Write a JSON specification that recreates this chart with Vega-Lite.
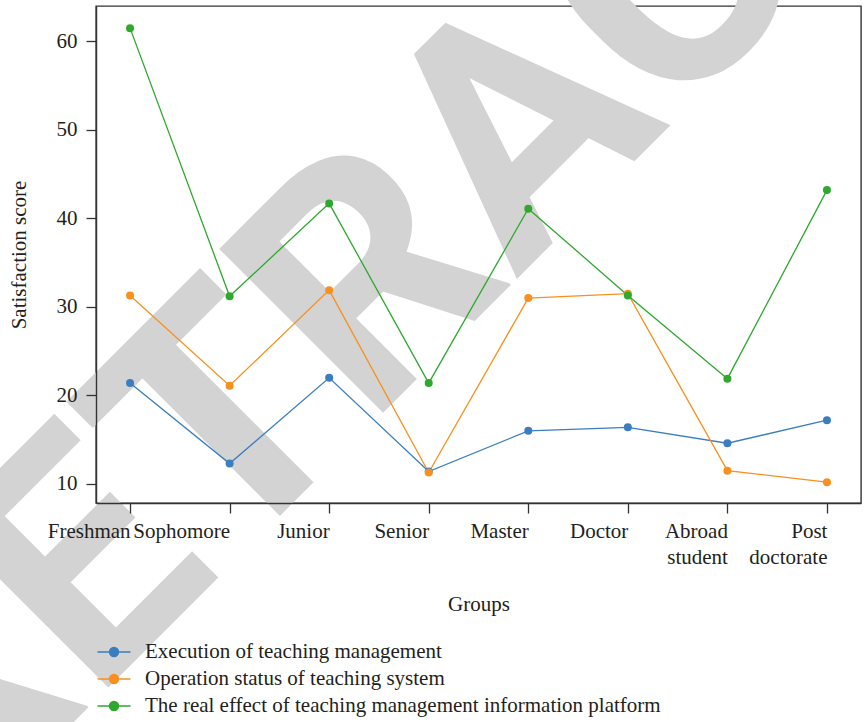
{
  "$schema": "https://vega.github.io/schema/vega-lite/v6.json",
  "width": 765,
  "height": 497,
  "autosize": {"type": "none"},
  "padding": {"left": 96, "top": 6, "right": 7, "bottom": 219},
  "background": "white",
  "config": {
    "font": "Liberation Serif",
    "view": {"stroke": "#333333", "strokeWidth": 1.4},
    "axis": {
      "labelFont": "Liberation Serif",
      "titleFont": "Liberation Serif",
      "labelFontSize": 21,
      "titleFontSize": 21,
      "titleFontWeight": "normal",
      "labelColor": "#231f20",
      "titleColor": "#231f20",
      "domainColor": "#333333",
      "tickColor": "#333333",
      "domainWidth": 1.4,
      "tickWidth": 1.3,
      "tickSize": 10,
      "grid": false
    },
    "legend": {
      "orient": "bottom",
      "direction": "vertical",
      "title": null,
      "labelFont": "Liberation Serif",
      "labelFontSize": 21,
      "labelColor": "#231f20",
      "labelLimit": 0,
      "symbolType": "M-1.5,0L1.5,0M0.41,0A0.41,0.41,0,1,1,-0.41,0A0.41,0.41,0,1,1,0.41,0",
      "symbolSize": 484,
      "symbolStrokeWidth": 1.4,
      "rowPadding": 5,
      "labelOffset": 19,
      "padding": 6,
      "offset": 20,
      "zindex": 2
    }
  },
  "layer": [
    {
      "data": {"values": [{"t": "RETRACTED"}]},
      "mark": {
        "type": "text",
        "font": "Roboto",
        "fontWeight": "bold",
        "fontSize": 326,
        "angle": -45,
        "align": "center",
        "baseline": "alphabetic",
        "color": "#d3d3d3",
        "dx": -50
      },
      "encoding": {
        "x": {"datum": "Doctor", "type": "ordinal", "axis": {"title": "Groups", "zindex": 2}},
        "y": {"datum": 45.7, "type": "quantitative", "axis": {"zindex": 2}},
        "text": {"field": "t"}
      }
    },
    {
      "data": {
        "values": [
          {"group": "Freshman", "series": "Execution of teaching management", "score": 21.4},
          {"group": "Sophomore", "series": "Execution of teaching management", "score": 12.3},
          {"group": "Junior", "series": "Execution of teaching management", "score": 22.0},
          {"group": "Senior", "series": "Execution of teaching management", "score": 11.4},
          {"group": "Master", "series": "Execution of teaching management", "score": 16.0},
          {"group": "Doctor", "series": "Execution of teaching management", "score": 16.4},
          {"group": "Abroad student", "series": "Execution of teaching management", "score": 14.6},
          {"group": "Post doctorate", "series": "Execution of teaching management", "score": 17.2},
          {"group": "Freshman", "series": "Operation status of teaching system", "score": 31.3},
          {"group": "Sophomore", "series": "Operation status of teaching system", "score": 21.1},
          {"group": "Junior", "series": "Operation status of teaching system", "score": 31.9},
          {"group": "Senior", "series": "Operation status of teaching system", "score": 11.3},
          {"group": "Master", "series": "Operation status of teaching system", "score": 31.0},
          {"group": "Doctor", "series": "Operation status of teaching system", "score": 31.5},
          {"group": "Abroad student", "series": "Operation status of teaching system", "score": 11.5},
          {"group": "Post doctorate", "series": "Operation status of teaching system", "score": 10.2},
          {"group": "Freshman", "series": "The real effect of teaching management information platform", "score": 61.5},
          {"group": "Sophomore", "series": "The real effect of teaching management information platform", "score": 31.2},
          {"group": "Junior", "series": "The real effect of teaching management information platform", "score": 41.7},
          {"group": "Senior", "series": "The real effect of teaching management information platform", "score": 21.4},
          {"group": "Master", "series": "The real effect of teaching management information platform", "score": 41.1},
          {"group": "Doctor", "series": "The real effect of teaching management information platform", "score": 31.3},
          {"group": "Abroad student", "series": "The real effect of teaching management information platform", "score": 21.9},
          {"group": "Post doctorate", "series": "The real effect of teaching management information platform", "score": 43.2}
        ]
      },
      "mark": {
        "type": "line",
        "strokeWidth": 1.3,
        "point": {"filled": true, "size": 64, "opacity": 1}
      },
      "encoding": {
        "x": {
          "field": "group",
          "type": "ordinal",
          "scale": {
            "type": "point",
            "padding": 0.342,
            "domain": ["Freshman", "Sophomore", "Junior", "Senior", "Master", "Doctor", "Abroad student", "Post doctorate"]
          },
          "axis": {
            "title": "Groups",
            "labelAngle": 0,
            "labelExpr": "split(datum.label, ' ')",
            "labelLineHeight": 26,
            "labelPadding": 18,
            "titlePadding": 26,
            "zindex": 2
          }
        },
        "y": {
          "field": "score",
          "type": "quantitative",
          "scale": {"domain": [7.85, 64.0], "nice": false, "zero": false},
          "axis": {
            "title": "Satisfaction score",
            "values": [10, 20, 30, 40, 50, 60],
            "labelPadding": 9,
            "titlePadding": 27,
            "zindex": 2
          }
        },
        "color": {
          "field": "series",
          "type": "nominal",
          "scale": {
            "domain": ["Execution of teaching management", "Operation status of teaching system", "The real effect of teaching management information platform"],
            "range": ["#3a7ebf", "#f7901e", "#2ea82d"]
          },
          "legend": {
            "encode": {
              "symbols": {
                "update": {
                  "fill": {"scale": "color", "field": "value"},
                  "stroke": {"scale": "color", "field": "value"}
                }
              }
            }
          }
        }
      }
    }
  ]
}
